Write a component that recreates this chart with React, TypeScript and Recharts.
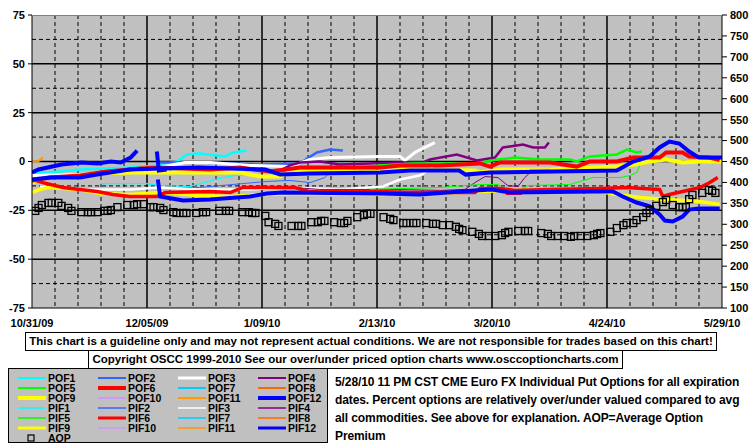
import { ComposedChart, Line, XAxis, YAxis, CartesianGrid } from 'recharts';

// x = days since 10/31/09, left axis = percent over/under, right axis = AOP
const tickDays = [0, 35, 70, 105, 140, 175, 210];
const tickLabels = ['10/31/09', '12/05/09', '1/09/10', '2/13/10', '3/20/10', '4/24/10', '5/29/10'];
const weekDays = [7, 14, 21, 28, 42, 49, 56, 63, 77, 84, 91, 98, 112, 119, 126, 133, 147, 154, 161, 168, 182, 189, 196, 203];
const leftTicks = [-75, -50, -25, 0, 25, 50, 75];
const leftSolid = [-50, -25, 0, 25, 50];
const leftDashed = [-62.5, -37.5, -12.5, 12.5, 37.5, 62.5];
const rightTicks = [100, 150, 200, 250, 300, 350, 400, 450, 500, 550, 600, 650, 700, 750, 800];

// [day, value]
const pof1 = [[0, -6.1], [8.5, -5.1], [14.6, -4.1], [29.8, -3.1], [39, -2], [44.1, 0], [47.2, 3.6], [51, 4.1], [58.7, 2.6], [61.2, 4.6], [65.4, 5.6]];
const pof2 = [[39, -0.5], [51, -0.5], [69.4, -1.5], [81.6, -1], [83.7, 1.5], [86.7, 4.6], [90.7, 6.1], [94.6, 5.6]];
const pof3 = [[0, -7.2], [14.6, -6.7], [24.6, -5.1], [29.8, -4.1], [39.9, -2.6], [46.6, -0.5], [54.2, -0.5], [66.3, -2], [78.5, -2.6], [84.6, 1], [90.7, 2], [106, 2.6], [112, 2.6], [113.5, 0.5], [116.5, 4.6], [119.6, 7.2], [122.6, 9.7]];
const pof4 = [[74.6, -5.6], [78.5, -2], [81.6, -0.5], [87.6, 0], [93.7, -1.5], [112, -0.5], [119, -0.5], [121.1, 1], [129.3, 3.6], [135.4, 0.5], [140.9, 2], [143.3, 7.2], [145.5, 7.7], [149.4, 8.7], [152.5, 7.2], [156.1, 7.2], [157.3, 9.7]];
const pof5 = [[98.9, -3.1], [105.9, -2], [115.9, -1], [127.8, -1], [134.8, -1], [141.8, 1], [147, 2], [154.6, 1], [163.7, 1], [165.8, 0], [169.8, 2.6], [178, 3.6], [181.1, 6.1], [184.1, 4.6], [185.6, 5.1]];
const pof6 = [[0, -9.7], [5.5, -8.2], [14.6, -7.2], [22.8, -5.1], [32.9, -3.6], [38.3, -3.1], [54.2, -4.1], [63.3, -3.1], [72.4, -5.1], [81.6, -3.1], [106, -3.1], [112, -2], [124, -2], [136.3, -1], [139.4, -2.6], [142.4, -0.5], [157.6, -0.5], [165.8, -2.6], [169.8, 0], [178, 0], [183, 2], [191, 2], [193, 4.6], [198, 4.6], [200, 2.6], [206, 2], [209.3, 0.8]];
const pof9 = [[0, -10.8], [4, -8.2], [14.6, -8.2], [19.8, -6.1], [29.8, -5.6], [63.3, -5.6], [69.4, -7.7], [75.5, -7.7], [78.5, -5.1], [106, -5.1], [115, -4.1], [134.8, -4.6], [136.3, -5.6], [142.4, -4.1], [157.6, -4.1], [178, -2.6], [183.5, -1.5], [188, 0], [193, 1], [198, -0.5], [203.3, 0], [210, 0]];
const pof10 = [[151.5, -4.1], [157.6, -4.1]];
const pof11 = [[0, 0], [1.8, 0], [3.3, 2]];
const pof12 = [[0, -5.6], [2, -4.1], [9, -1.5], [15, -0.5], [20, -1], [24, 0], [27, -0.5], [30, 2], [32, 5.6]];
const pof12Mar = [[0, -9.2], [5.5, -8.2], [14.6, -8.2], [19.8, -6.7], [29.8, -4.1], [39, -3.6], [51, -3.1], [71, -4.1], [75.5, -6.7], [84.6, -6.1], [106, -5.6], [115, -4.6], [130, -4.6], [132, -6.7], [139.4, -5.6], [159, -5.1], [178, -4.6], [183, 0], [188, 2.6], [191, 7.2], [194, 10.2], [197, 9.2], [200, 5.1], [203, 2], [210, 2]];
const pof12New = [[38, 5.1], [38.6, -4.6], [41, -4.1]];

const pif1 = [[20.7, -11.3], [35, -11.3], [39, -12.3], [48.1, -12.8], [55.7, -9.2], [61.2, -7.2], [65.4, -6.7]];
const pif2 = [[39, -13.3], [51, -13.3], [71.5, -10.2], [78.5, -9.7], [84.6, -10.8], [89.2, -8.2], [91.6, -3.1], [94.6, -0.5]];
const pif3 = [[2.4, -12.8], [14.6, -14.3], [29.8, -14.3], [39, -13.3], [51, -14.3], [66.3, -14.3], [78.5, -13.3], [93.7, -14.3], [106.8, -12.8], [112, -9.2], [118, -7.2], [122, -3.1]];
const pif4 = [[66.3, -13.3], [75.5, -12.8], [87.6, -14.3], [108.9, -14.3], [124.2, -14.8], [131.8, -14.3], [134.8, -10.8], [137.9, -7.7], [141.8, -8.2], [144.8, -12.3], [147.9, -12.8], [150, -8.2], [152.2, -4.6], [157.6, -4.1]];
const pif5 = [[102.9, -14.3], [124.2, -13.3], [131.8, -12.3], [136.3, -11.8], [141.8, -11.8], [144.8, -14.8], [148.5, -14.8], [150.9, -12.3], [163.7, -11.8], [170.7, -8.2], [178.9, -8.2], [182, -7.2], [184.1, -5.6], [185, -1.5]];
const pif6 = [[0, -9.2], [3.3, -10.8], [9.4, -13.3], [19.8, -15.4], [24.6, -16.9], [29.8, -17.9], [38, -17.9], [40.5, -15.9], [54.2, -15.4], [60.3, -15.9], [64.2, -13.3], [80, -13.3], [84.6, -15.4], [106, -15.4], [115, -15.9], [134.8, -15.9], [136.3, -13.8], [142.4, -13.8], [147, -14.8], [157.6, -14.3], [172.8, -13.8], [181, -13.3], [191, -14.3], [192, -17.9], [194, -16.9], [198, -15.4], [203.3, -13.3], [206.3, -10.8], [208.7, -8.2]];
const pif6Short = [[144.2, -16.9], [149.1, -16.9]];
const pif9 = [[0, -15.9], [2.4, -14.3], [4.9, -13.3], [14.6, -14.3], [20.7, -16.4], [29.8, -16.9], [39, -15.9], [51, -17.4], [60.3, -17.9], [69.4, -16.9], [81.6, -16.4], [106, -16.9], [118, -16.4], [130.2, -15.9], [136.3, -15.4], [145.5, -14.8], [157.6, -14.8], [172.8, -15.4], [178, -16.9], [185, -18.4], [193, -19.5], [203.3, -20.5], [209.3, -22]];
const pif12 = [[38.3, -9.2], [39, -17.9], [46, -20], [54.2, -19.5], [66.3, -17.9], [71.5, -16.4], [76.4, -15.9], [106, -16.4], [118, -16.9], [134.8, -14.8], [140, -14.3], [145.5, -15.9], [170.7, -15.4], [176.8, -15.4], [179.8, -17.9], [184, -21], [188, -23], [191, -27.1], [192.6, -30.2], [195, -30.7], [198, -28.2], [200, -24.6], [203, -24.1], [209.3, -24.1]];

// Average Option Premium, right axis
const aopDays = [1, 2, 3, 5, 6, 8, 9, 11, 12, 15, 17, 18, 20, 22, 23, 24, 26, 29, 31, 32, 34, 36, 37, 39, 40, 43, 44, 46, 47, 50, 52, 53, 57, 59, 60, 64, 66, 67, 68, 71, 72, 74, 75, 79, 81, 82, 85, 87, 88, 89, 92, 94, 95, 96, 99, 101, 102, 103, 107, 109, 110, 113, 114, 116, 117, 120, 122, 123, 125, 127, 129, 130, 131, 134, 136, 137, 139, 141, 143, 144, 145, 148, 150, 151, 155, 157, 158, 160, 162, 164, 165, 167, 169, 171, 172, 173, 176, 178, 180, 181, 183, 184, 186, 187, 188, 190, 192, 193, 195, 197, 198, 199, 200, 201, 204, 206, 207, 208];
const aopValues = [332, 339, 346, 351, 351, 351, 344, 339, 332, 329, 329, 329, 329, 332, 332, 334, 341, 346, 346, 348, 348, 341, 341, 339, 334, 329, 327, 327, 327, 327, 329, 329, 332, 332, 332, 329, 329, 327, 327, 320, 305, 301, 296, 296, 296, 296, 305, 305, 308, 308, 305, 303, 303, 308, 317, 322, 325, 325, 317, 313, 310, 303, 303, 303, 303, 303, 301, 301, 298, 298, 294, 289, 286, 282, 277, 272, 272, 272, 274, 279, 282, 284, 284, 284, 279, 277, 272, 272, 272, 270, 272, 272, 272, 274, 277, 279, 282, 291, 298, 303, 303, 310, 317, 327, 334, 344, 353, 358, 346, 341, 341, 341, 360, 370, 375, 382, 380, 375];

const CYAN = '#00FFFF', ROYAL = '#3366FF', WHITE = '#FFFFFF', PURPLE = '#800080', LIME = '#00FF00', RED = '#FF0000';
const SKY = '#00CCFF', ORANGE = '#FF6600', YELLOW = '#FFFF00', LAVENDER = '#CC99FF', AMBER = '#FF9900', BLUE = '#0000FF';

const series = [
  { data: pof1, color: CYAN, width: 2.5 },
  { data: pif1, color: CYAN, width: 1.2 },
  { data: pof2, color: ROYAL, width: 2.5 },
  { data: pif2, color: ROYAL, width: 1 },
  { data: pof3, color: WHITE, width: 3 },
  { data: pif3, color: WHITE, width: 2.5 },
  { data: pof4, color: PURPLE, width: 2.5 },
  { data: pif4, color: PURPLE, width: 1 },
  { data: pof5, color: LIME, width: 2.5 },
  { data: pif5, color: LIME, width: 1 },
  { data: pof9, color: YELLOW, width: 4 },
  { data: pif9, color: YELLOW, width: 3.5 },
  { data: pof6, color: RED, width: 4 },
  { data: pif6, color: RED, width: 3.5 },
  { data: pif6Short, color: RED, width: 1 },
  { data: pof10, color: LAVENDER, width: 1.5 },
  { data: pof11, color: AMBER, width: 2 },
  { data: pof12, color: BLUE, width: 4 },
  { data: pof12Mar, color: BLUE, width: 4 },
  { data: pof12New, color: BLUE, width: 4 },
  { data: pif12, color: BLUE, width: 4 },
];

const legendItems = [
  { name: 'POF1', color: CYAN, width: 2 }, { name: 'POF2', color: ROYAL, width: 2 }, { name: 'POF3', color: WHITE, width: 3 }, { name: 'POF4', color: PURPLE, width: 2 },
  { name: 'POF5', color: LIME, width: 2 }, { name: 'POF6', color: RED, width: 4 }, { name: 'POF7', color: SKY, width: 2 }, { name: 'POF8', color: ORANGE, width: 2 },
  { name: 'POF9', color: YELLOW, width: 4 }, { name: 'POF10', color: LAVENDER, width: 2 }, { name: 'POF11', color: AMBER, width: 2 }, { name: 'POF12', color: BLUE, width: 4 },
  { name: 'PIF1', color: CYAN, width: 1.5 }, { name: 'PIF2', color: ROYAL, width: 1.5 }, { name: 'PIF3', color: WHITE, width: 1.5 }, { name: 'PIF4', color: PURPLE, width: 1.5 },
  { name: 'PIF5', color: LIME, width: 1.5 }, { name: 'PIF6', color: RED, width: 3 }, { name: 'PIF7', color: SKY, width: 1.5 }, { name: 'PIF8', color: ORANGE, width: 1.5 },
  { name: 'PIF9', color: YELLOW, width: 3 }, { name: 'PIF10', color: LAVENDER, width: 1.5 }, { name: 'PIF11', color: AMBER, width: 1.5 }, { name: 'PIF12', color: BLUE, width: 3 },
];

const toPts = (a: number[][]) => a.map(([d, v]) => ({ d, v }));
const aopPts = aopDays.map((d, i) => ({ d, v: aopValues[i] }));

const tickStyle = { fill: '#000', fontSize: 11, fontWeight: 'bold' };

const SquareDot = (p: any) => (
  <rect key={p.index} x={p.cx - 3.5} y={p.cy - 3.5} width={7} height={7} fill="none" stroke="#000" strokeWidth={1.3} />
);

const legendLabel = { display: 'block', height: 10, overflow: 'visible', fontSize: 10.5, lineHeight: '10px', marginLeft: 1 };

export default function App() {
  return (
    <div style={{ position: 'absolute', left: 0, top: 0, width: 755, height: 446, background: '#fff', fontFamily: '"Liberation Sans", Arial, sans-serif', fontWeight: 'bold', color: '#000' }}>
      <ComposedChart width={755} height={330} margin={{ top: 15, right: 0, bottom: 0, left: 0 }}>
        <CartesianGrid yAxisId="left" fill="#C0C0C0" fillOpacity={1} stroke="#000" strokeDasharray="4 3" horizontalValues={leftDashed} verticalValues={weekDays} />
        <CartesianGrid yAxisId="left" stroke="#000" strokeWidth={1.5} horizontalValues={leftSolid} verticalValues={tickDays.slice(1, -1)} />
        <XAxis dataKey="d" type="number" domain={[0, 210]} ticks={tickDays} tickFormatter={(v: number) => tickLabels[tickDays.indexOf(v)]}
          height={22} tickLine={false} tickMargin={5} axisLine={{ stroke: '#000' }} tick={tickStyle} interval={0} allowDataOverflow />
        <YAxis yAxisId="left" domain={[-75, 75]} ticks={leftTicks} width={32} tickSize={4} tickMargin={3} axisLine={{ stroke: '#000' }} tickLine={{ stroke: '#000' }} tick={tickStyle} interval={0} allowDataOverflow />
        <YAxis yAxisId="right" orientation="right" domain={[100, 800]} ticks={rightTicks} width={33} tickSize={5} tickMargin={3} axisLine={{ stroke: '#000' }} tickLine={{ stroke: '#000' }} tick={tickStyle} interval={0} allowDataOverflow />
        {series.map((s, i) => (
          <Line key={i} yAxisId="left" data={toPts(s.data)} dataKey="v" type="linear" stroke={s.color} strokeWidth={s.width} dot={false} activeDot={false} isAnimationActive={false} />
        ))}
        <Line yAxisId="right" data={aopPts} dataKey="v" stroke="none" dot={SquareDot} activeDot={false} isAnimationActive={false} />
      </ComposedChart>
      <div style={{ position: 'absolute', left: 32, top: 15, width: 690, height: 1, background: '#808080' }} />

      <div style={{ position: 'absolute', left: 25, top: 332, width: 692, height: 19, boxSizing: 'border-box', border: '1px solid #000', fontSize: 11.5, lineHeight: '17px', textAlign: 'center', whiteSpace: 'nowrap' }}>
        This chart is a guideline only and may not represent actual conditions. We are not responsible for trades based on this chart!
      </div>
      <div style={{ position: 'absolute', left: 88, top: 350, width: 535, height: 19, boxSizing: 'border-box', border: '1px solid #000', fontSize: 11.5, lineHeight: '17px', textAlign: 'center', whiteSpace: 'nowrap' }}>
        Copyright OSCC 1999-2010 See our over/under priced option charts www.osccoptioncharts.com
      </div>

      <div style={{ position: 'absolute', left: 8, top: 368, width: 320, height: 75, boxSizing: 'border-box', border: '1px solid #000', background: '#C0C0C0' }}>
        {legendItems.map((it, i) => {
          const col = i % 4;
          const row = Math.floor(i / 4);
          return (
            <div key={it.name} style={{ position: 'absolute', left: 9 + col * 80, top: 4 + row * 10, height: 10, display: 'flex', alignItems: 'center' }}>
              <svg width={29} height={8}><line x1={0} y1={4} x2={28} y2={4} stroke={it.color} strokeWidth={it.width} /></svg>
              <span style={legendLabel}>{it.name}</span>
            </div>
          );
        })}
        <div style={{ position: 'absolute', left: 9, top: 64, height: 10, display: 'flex', alignItems: 'center' }}>
          <svg width={29} height={10}><rect x={10} y={2} width={6} height={6} fill="none" stroke="#000" strokeWidth={1.2} /></svg>
          <span style={legendLabel}>AOP</span>
        </div>
      </div>

      <div style={{ position: 'absolute', left: 335, top: 373, width: 408, fontSize: 12, letterSpacing: -0.1, lineHeight: '18px' }}>
        5/28/10 11 PM CST CME Euro FX Individual Put Options for all expiration dates. Percent options are relatively over/under valued compared to avg all commodities. See above for explanation. AOP=Average Option Premium
      </div>
    </div>
  );
}
